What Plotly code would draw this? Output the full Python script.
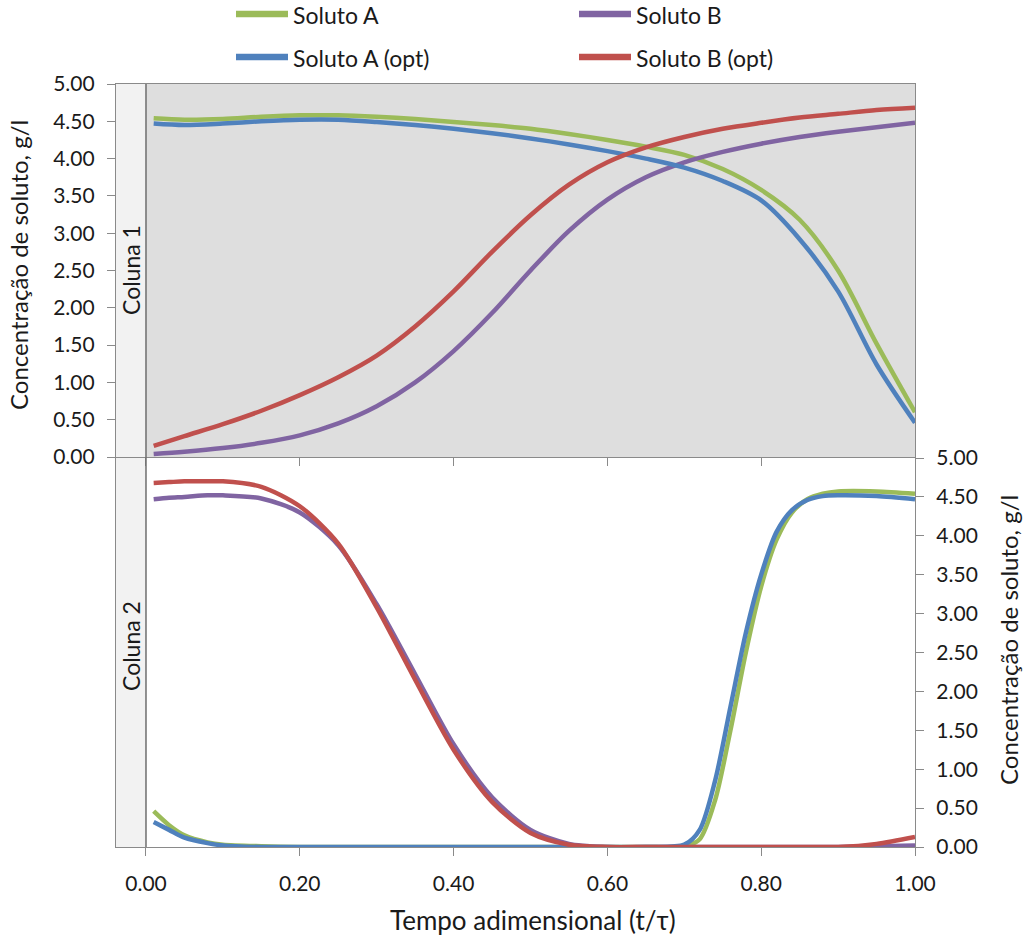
import plotly.graph_objects as go

W, H = 1024, 939

# ---------------- data ----------------
x_top = [0.01, 0.05, 0.10, 0.15, 0.20, 0.25, 0.30, 0.35, 0.40, 0.45, 0.50,
         0.55, 0.60, 0.65, 0.70, 0.75, 0.80, 0.85, 0.90, 0.95, 1.00]
a_top = [4.54, 4.52, 4.53, 4.56, 4.58, 4.58, 4.56, 4.53, 4.49, 4.45, 4.40,
         4.33, 4.25, 4.16, 4.05, 3.86, 3.58, 3.18, 2.50, 1.52, 0.60]
b_top = [0.04, 0.07, 0.12, 0.19, 0.29, 0.45, 0.68, 1.00, 1.42, 1.93, 2.50,
         3.03, 3.45, 3.75, 3.95, 4.09, 4.20, 4.29, 4.36, 4.42, 4.48]
a_opt_top = [4.47, 4.45, 4.47, 4.50, 4.52, 4.52, 4.49, 4.45, 4.40, 4.34, 4.27,
             4.19, 4.10, 4.00, 3.88, 3.70, 3.44, 2.92, 2.22, 1.24, 0.46]
b_opt_top = [0.15, 0.28, 0.44, 0.62, 0.83, 1.07, 1.36, 1.75, 2.22, 2.75, 3.24,
             3.65, 3.95, 4.15, 4.29, 4.40, 4.48, 4.55, 4.60, 4.65, 4.68]

x_bot = [0.01, 0.03, 0.05, 0.08, 0.10, 0.15, 0.20, 0.25, 0.30, 0.35, 0.40,
         0.45, 0.50, 0.55, 0.60, 0.65, 0.70, 0.72, 0.74, 0.76, 0.78, 0.80,
         0.82, 0.84, 0.86, 0.88, 0.90, 0.95, 1.00]
a_bot = [0.46, 0.28, 0.15, 0.06, 0.03, 0.01, 0.00, 0.00, 0.00, 0.00, 0.00,
         0.00, 0.00, 0.00, 0.00, 0.00, 0.01, 0.10, 0.60, 1.50, 2.50, 3.35,
         3.95, 4.30, 4.47, 4.54, 4.57, 4.57, 4.54]
b_bot = [4.47, 4.49, 4.50, 4.52, 4.52, 4.48, 4.30, 3.88, 3.12, 2.22, 1.32,
         0.64, 0.22, 0.04, 0.00, 0.00, 0.00, 0.00, 0.00, 0.00, 0.00, 0.00,
         0.00, 0.00, 0.00, 0.00, 0.00, 0.01, 0.02]
a_opt_bot = [0.32, 0.22, 0.12, 0.05, 0.02, 0.00, 0.00, 0.00, 0.00, 0.00, 0.00,
             0.00, 0.00, 0.00, 0.00, 0.00, 0.03, 0.22, 0.85, 1.80, 2.75, 3.50,
             4.05, 4.33, 4.46, 4.51, 4.52, 4.51, 4.47]
b_opt_bot = [4.68, 4.69, 4.70, 4.70, 4.70, 4.63, 4.38, 3.90, 3.08, 2.15, 1.25,
             0.58, 0.18, 0.03, 0.00, 0.00, 0.00, 0.00, 0.00, 0.00, 0.00, 0.00,
             0.00, 0.00, 0.00, 0.00, 0.00, 0.04, 0.13]

series_names = ["Soluto A", "Soluto B", "Soluto A (opt)", "Soluto B (opt)"]
series_colors = ["#9BBB59", "#8064A2", "#4F81BD", "#C0504D"]
x_ticks = [0.0, 0.2, 0.4, 0.6, 0.8, 1.0]
y_ticks = [0.0, 0.5, 1.0, 1.5, 2.0, 2.5, 3.0, 3.5, 4.0, 4.5, 5.0]
x_min = -0.039  # room for the "Coluna" label strip

FONT = "Lato"
TXT = "#1a1a1a"
LINE = "#8a8a8a"

def px(x):
    return x / W

def py(y):
    return 1 - y / H

fig = go.Figure()

top_sets = [a_top, b_top, a_opt_top, b_opt_top]
bot_sets = [a_bot, b_bot, a_opt_bot, b_opt_bot]
for name, col, yv in zip(series_names, series_colors, top_sets):
    fig.add_trace(go.Scatter(x=x_top, y=yv, mode="lines", name=name,
                             line=dict(color=col, width=4.5, shape="spline", smoothing=0.9),
                             xaxis="x", yaxis="y", showlegend=False))
for name, col, yv in zip(series_names, series_colors, bot_sets):
    fig.add_trace(go.Scatter(x=x_bot, y=yv, mode="lines", name=name,
                             line=dict(color=col, width=4.5, shape="spline", smoothing=0.8),
                             xaxis="x2", yaxis="y2", showlegend=False))

xdom = [px(116), px(915)]
ydom_top = [py(457), py(84)]
ydom_bot = [py(847), py(458)]

axis_common = dict(showgrid=False, zeroline=False, showline=True, mirror=True,
                   linecolor=LINE, linewidth=1.3, ticks="outside", ticklen=8,
                   tickcolor=LINE, tickwidth=1.3, automargin=False,
                   tickfont=dict(family=FONT, size=21, color=TXT))

fig.update_layout(
    width=W, height=H, margin=dict(l=0, r=0, t=0, b=0, pad=0, autoexpand=False),
    paper_bgcolor="white", plot_bgcolor="white", showlegend=False,
    xaxis=dict(domain=xdom, range=[x_min, 1.0], anchor="y", tickvals=x_ticks,
               showticklabels=False, **axis_common),
    yaxis=dict(domain=ydom_top, range=[0, 5], anchor="x", tickvals=y_ticks,
               tickformat=".2f", ticklabelstandoff=8, **axis_common),
    xaxis2=dict(domain=xdom, range=[x_min, 1.0], anchor="y2", tickvals=x_ticks,
                tickformat=".2f", ticklabelstandoff=10, **axis_common),
    yaxis2=dict(domain=ydom_bot, range=[0, 5], anchor="x2", side="right",
                tickvals=y_ticks, tickformat=".2f", ticklabelstandoff=8,
                **axis_common),
)

shapes = []
# gray plot area of upper chart
shapes.append(dict(type="rect", xref="x", yref="y domain", x0=0, x1=1, y0=0, y1=1,
                   fillcolor="#DEDEDE", line=dict(width=0), layer="below"))
# label strips
for yr in ["y domain", "y2 domain"]:
    shapes.append(dict(type="rect", xref="x", yref=yr, x0=x_min, x1=0, y0=0, y1=1,
                       fillcolor="#F2F2F2", line=dict(width=0), layer="below"))
# vertical separator at t=0
shapes.append(dict(type="line", xref="x", yref="paper", x0=0, x1=0,
                   y0=ydom_bot[0], y1=ydom_top[1],
                   line=dict(color="#6e6e6e", width=1.5), layer="above"))

def note(text, x, y, size, angle=0, xanchor="center"):
    return dict(text=text, xref="paper", yref="paper", x=px(x), y=py(y),
                xanchor=xanchor, yanchor="middle", showarrow=False,
                textangle=angle, font=dict(family=FONT, size=size, color=TXT))

annotations = [
    note("Coluna 1", 131, 270, 23, -90),
    note("Coluna 2", 131, 646, 23, -90),
    note("Concentração de soluto, g/l", 19, 265, 24, -90),
    note("Concentração de soluto, g/l", 1008, 640, 24, -90),
    note("Tempo adimensional (t/τ)", 533, 920, 26),
]

# legend (2 x 2)
leg_pos = [(236, 15), (579, 15), (236, 58), (579, 58)]
for (lx, ly), name, col in zip(leg_pos, series_names, series_colors):
    shapes.append(dict(type="line", xref="paper", yref="paper",
                       x0=px(lx), x1=px(lx + 52), y0=py(ly - 1), y1=py(ly - 1),
                       line=dict(color=col, width=6.5)))
    annotations.append(note(name, lx + 55, ly, 23, 0, "left"))

fig.update_layout(shapes=shapes, annotations=annotations)

fig.write_html("out.html")
